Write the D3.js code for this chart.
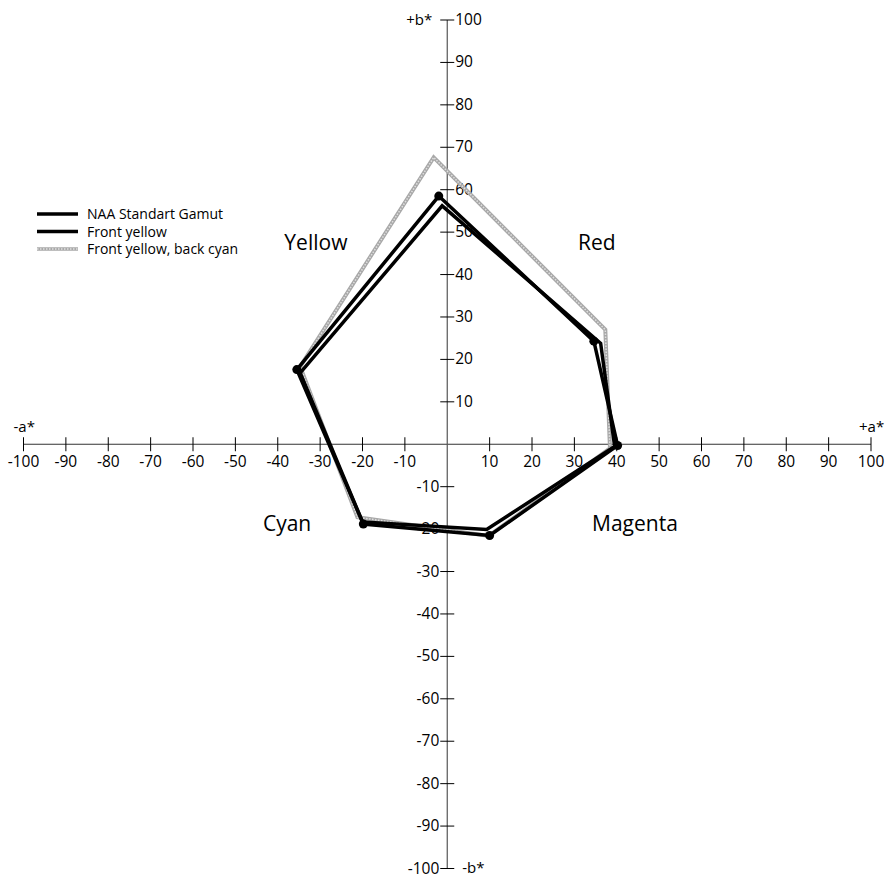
<!DOCTYPE html>
<html><head><meta charset="utf-8">
<script src="https://cdn.jsdelivr.net/npm/d3@7"></script>
<style>body{margin:0;background:#fff}svg{display:block}text{font-family:"Open Sans","Noto Sans",sans-serif}</style>
</head><body>
<svg id="c" width="886" height="877"></svg>
<script>
// Data
const vertices = ["Yellow","Top","Red","RedMagenta","Magenta","Cyan"];
const naaA = [-35.5, -2, 34.6, 40.2, 10, -19.8];
const naaB = [17.6, 58.5, 24.3, -0.3, -21.5, -18.8];
const fyA = [-34.7, -1.2, 36.2, 39.5, 9.3, -20];
const fyB = [16.8, 56.2, 23.8, -0.5, -20.1, -18.3];
const fycA = [-34.7, -3.2, 37.3, 38.4, 9.8, -21.2];
const fycB = [18.3, 67.6, 27, -1, -21.6, -17.2];
const seriesNames = ["NAA Standart Gamut","Front yellow","Front yellow, back cyan"];
const xTicks = [-100,-90,-80,-70,-60,-50,-40,-30,-20,-10,10,20,30,40,50,60,70,80,90,100];
const yTicks = [-100,-90,-80,-70,-60,-50,-40,-30,-20,-10,10,20,30,40,50,60,70,80,90,100];
const regionLabels = ["Yellow","Red","Cyan","Magenta"];
const regionA = [-31, 35.3, -37.8, 44.3];
const regionB = [47.6, 47.6, -18.6, -18.6];

const svg = d3.select("#c");
const x = d3.scaleLinear().domain([-100,100]).range([23.5,871]);
const y = d3.scaleLinear().domain([-100,100]).range([868.5,20]);

// axes lines
svg.append("line").attr("x1",x(-100)).attr("x2",x(100)).attr("y1",y(0)).attr("y2",y(0)).attr("stroke","#333").attr("stroke-width",1.2);
svg.append("line").attr("x1",x(0)).attr("x2",x(0)).attr("y1",y(100)).attr("y2",y(-100)).attr("stroke","#555").attr("stroke-width",1.2);

// x ticks
const xt = svg.append("g");
xt.selectAll("line").data(xTicks).join("line")
  .attr("x1",d=>x(d)).attr("x2",d=>x(d)).attr("y1",y(0)-7).attr("y2",y(0)+7)
  .attr("stroke","#000").attr("stroke-width",1);
xt.selectAll("text").data(xTicks).join("text")
  .attr("x",d=>x(d)).attr("y",y(0)+23)
  .attr("text-anchor","middle").attr("font-size",15.5).attr("fill","#000")
  .text(d=>d);

// y ticks
const yt = svg.append("g");
yt.selectAll("line").data(yTicks).join("line")
  .attr("x1",x(0)-7).attr("x2",x(0)+7).attr("y1",d=>y(d)).attr("y2",d=>y(d))
  .attr("stroke","#000").attr("stroke-width",1);
yt.selectAll("text").data(yTicks).join("text")
  .attr("x",d=>d>0?x(0)+8:x(0)-8).attr("y",d=>y(d)+5)
  .attr("text-anchor",d=>d>0?"start":"end").attr("font-size",15.5).attr("fill","#000")
  .text(d=>d);

// axis end labels
const axLab = [["+b*",x(0)-15,y(100)+5,"end"],["-b*",x(0)+15,y(-100)+4.5,"start"],["-a*",x(-100)-10,y(0)-12,"start"],["+a*",x(100)-12,y(0)-12,"start"]];
svg.selectAll(".axl").data(axLab).join("text").attr("class","axl")
  .attr("x",d=>d[1]).attr("y",d=>d[2]).attr("text-anchor",d=>d[3]).attr("font-size",15).text(d=>d[0]);

// region labels
svg.selectAll(".reg").data(regionLabels).join("text").attr("class","reg")
  .attr("x",(d,i)=>x(regionA[i])).attr("y",(d,i)=>y(regionB[i])+7.5)
  .attr("text-anchor","middle").attr("font-size",21).attr("font-weight",500).text(d=>d);

const line = d3.line().x(d=>x(d[0])).y(d=>y(d[1])).curve(d3.curveLinearClosed);
const pts = (A,B)=>A.map((a,i)=>[a,B[i]]);

// gray textured series
const g3 = svg.append("g");
g3.append("path").attr("d",line(pts(fycA,fycB))).attr("fill","none").attr("stroke","#a8a8a8").attr("stroke-width",4).attr("stroke-linejoin","miter");
g3.append("path").attr("d",line(pts(fycA,fycB))).attr("fill","none").attr("stroke","#e0e0e0").attr("stroke-width",1.5).attr("stroke-dasharray","1.5,1.5");

svg.append("path").attr("d",line(pts(fyA,fyB))).attr("fill","none").attr("stroke","#000").attr("stroke-width",3.5).attr("stroke-linejoin","miter");
svg.append("path").attr("d",line(pts(naaA,naaB))).attr("fill","none").attr("stroke","#000").attr("stroke-width",3.5).attr("stroke-linejoin","miter");
svg.selectAll(".dot").data(pts(naaA,naaB)).join("circle").attr("class","dot")
  .attr("cx",d=>x(d[0])).attr("cy",d=>y(d[1])).attr("r",4.5).attr("fill","#000");

// legend
const lg = svg.append("g");
seriesNames.forEach((n,i)=>{
  const yy = 214 + i*17.5;
  if(i<2){
    lg.append("line").attr("x1",37).attr("x2",78).attr("y1",yy).attr("y2",yy).attr("stroke","#000").attr("stroke-width",3.5);
  } else {
    lg.append("line").attr("x1",37).attr("x2",78).attr("y1",yy).attr("y2",yy).attr("stroke","#a8a8a8").attr("stroke-width",3.5);
    lg.append("line").attr("x1",37).attr("x2",78).attr("y1",yy).attr("y2",yy).attr("stroke","#e0e0e0").attr("stroke-width",1.5).attr("stroke-dasharray","1.5,1.5");
  }
  lg.append("text").attr("x",87).attr("y",yy+5).attr("font-size",14).text(n);
});
</script>
</body></html>
